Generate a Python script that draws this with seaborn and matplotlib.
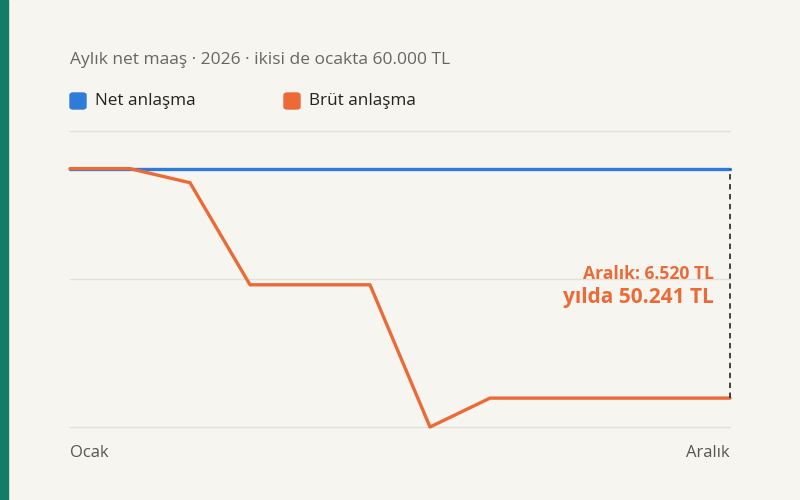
import numpy as np
import pandas as pd
import matplotlib.pyplot as plt
import seaborn as sns
from matplotlib.patches import Rectangle, FancyBboxPatch

months = ["Ocak", "Şubat", "Mart", "Nisan", "Mayıs", "Haziran",
          "Temmuz", "Ağustos", "Eylül", "Ekim", "Kasım", "Aralık"]
net_deal = [60000] * 12
gross_deal = [60000, 60000, 59600, 56700, 56700, 56700,
              52659, 53480, 53480, 53480, 53480, 53480]
series_names = ["Net anlaşma", "Brüt anlaşma"]
colors = {"Net anlaşma": "#2e7bd8", "Brüt anlaşma": "#ec6a37"}

df = pd.DataFrame({
    "ay": list(range(12)) * 2,
    "maas": net_deal + gross_deal,
    "seri": [series_names[0]] * 12 + [series_names[1]] * 12,
})

bg = "#f6f5f0"
sns.set_style("white")
plt.rcParams["font.family"] = ["Open Sans", "DejaVu Sans"]

fig = plt.figure(figsize=(8, 5), dpi=100, facecolor=bg)
# green strip on the left edge
fig.patches.append(Rectangle((0, 0), 8 / 800, 1, transform=fig.transFigure,
                             color="#127c69", zorder=0))

ax = fig.add_axes([70 / 800, 1 - 427 / 500, 660 / 800, 296 / 500])
ax.set_facecolor(bg)

sns.lineplot(data=df, x="ay", y="maas", hue="seri", hue_order=series_names,
             palette=colors, linewidth=2.4, legend=False, ax=ax)
for ln in ax.lines:
    ln.set_clip_on(False)

lo, hi = min(gross_deal), 61070
ax.set_ylim(lo, hi)
ax.set_xlim(0, 11)
ax.set_yticks([lo, (lo + hi) / 2, hi])
ax.yaxis.grid(True, color="#e2e0da", linewidth=1)
for gl in ax.get_ygridlines():
    gl.set_clip_on(False)
ax.set_axisbelow(True)
ax.set_yticklabels([])
ax.tick_params(left=False, bottom=False)
ax.set_xticks([])
ax.set_xlabel("")
ax.set_ylabel("")
for s in ax.spines.values():
    s.set_visible(False)

# December gap marker
ax.plot([11, 11], [gross_deal[-1], net_deal[-1]], linestyle=(0, (3, 2.5)),
        color="#333333", linewidth=1.3, clip_on=False)

gap = net_deal[-1] - gross_deal[-1]
total = sum(n - g for n, g in zip(net_deal, gross_deal))
fmt = lambda v: f"{v:,}".replace(",", ".")
fig.text(714 / 800, 1 - 274 / 500, f"Aralık: {fmt(gap)} TL", ha="right", va="center",
         fontsize=12.6, fontweight="bold", color=colors["Brüt anlaşma"])
fig.text(714 / 800, 1 - 298 / 500, f"yılda {fmt(total)} TL", ha="right", va="center",
         fontsize=15, fontweight="bold", color=colors["Brüt anlaşma"])

# axis end labels
fig.text(70 / 800, 1 - 453 / 500, months[0], ha="left", va="center",
         fontsize=12, color="#555555")
fig.text(730 / 800, 1 - 453 / 500, months[-1], ha="right", va="center",
         fontsize=12, color="#555555")

# subtitle
fig.text(70 / 800, 1 - 60 / 500, "Aylık net maaş · 2026 · ikisi de ocakta 60.000 TL",
         ha="left", va="center", fontsize=12.5, color="#666666")

# legend
for x0, name in zip([70, 284], series_names):
    fig.patches.append(FancyBboxPatch((x0 / 800, 1 - 109 / 500), 16 / 800, 16 / 500,
                                      boxstyle="round,pad=0,rounding_size=0.004",
                                      transform=fig.transFigure,
                                      color=colors[name], zorder=3))
    fig.text((x0 + 25) / 800, 1 - 101 / 500, name, ha="left", va="center",
             fontsize=12.3, color="#222222")

fig.savefig("out.png", dpi=100, facecolor=bg)
